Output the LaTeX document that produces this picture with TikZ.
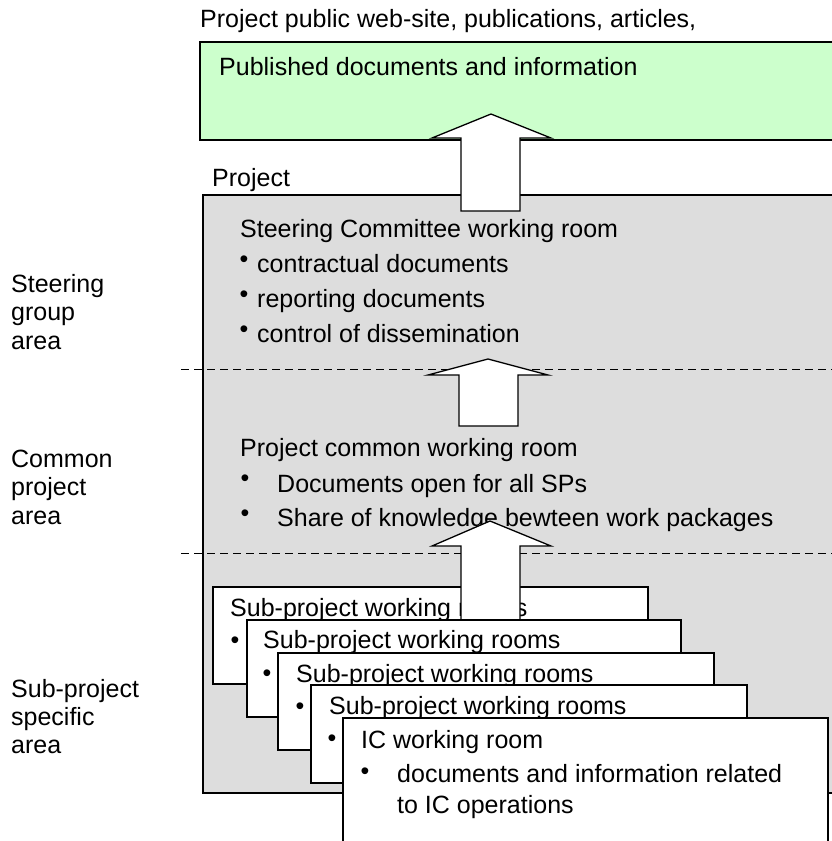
\documentclass[tikz,border=0pt]{standalone}
\usepackage{fontspec}
\setmainfont{Liberation Sans}
\definecolor{pubgreen}{HTML}{CCFFCC}
\definecolor{projgray}{HTML}{DDDDDD}
\begin{document}
\begin{tikzpicture}[x=1pt,y=-1pt,
  font=\fontsize{25}{29}\selectfont,
  txt/.style={anchor=base west, inner sep=0pt},
  dot/.style={anchor=center, inner sep=0pt},
  zone/.style={draw=black, line width=1.3pt},
  room/.style={draw=black, fill=white, line width=1.3pt},
  blockarrow/.style={draw=black, fill=white, line width=1.3pt, line join=miter},
  divider/.style={dash pattern=on 8pt off 5pt, line width=1pt}]
\clip (0,0) rectangle (832,841);

% public area
\node[txt] (pubtitle) at (200,27) {Project public web-site, publications, articles,};
\fill[pubgreen] (200,42) rectangle (845,140);
\draw[zone] (200,42) rectangle (845,140);
\node[txt] (pubdocs) at (219,75) {Published documents and information};

% project area
\node[txt] (projtitle) at (212,186) {Project};
\fill[projgray] (203,195) rectangle (845,793);
\draw[zone] (203,195) rectangle (845,793);

% area dividers
\coordinate (d1l) at (181,369);
\coordinate (d1r) at (832,369);
\coordinate (d2l) at (181,553);
\coordinate (d2r) at (832,553);
\draw[divider] (d1l) -- (d1r);
\draw[divider] (d2l) -- (d2r);

% left-hand area labels
\node[txt] (lab1a) at (11,292) {Steering};
\node[txt] (lab1b) at (11,320) {group};
\node[txt] (lab1c) at (11,349) {area};
\node[txt] (lab2a) at (11,467) {Common};
\node[txt] (lab2b) at (11,495) {project};
\node[txt] (lab2c) at (11,524) {area};
\node[txt] (lab3a) at (11,697) {Sub-project};
\node[txt] (lab3b) at (11,725) {specific};
\node[txt] (lab3c) at (11,753) {area};

% steering committee room
\node[txt] (sctitle) at (240,237) {Steering Committee working room};
\node[dot] (scb1) at (244,262) {•};
\node[txt] (sc1) at (257,272) {contractual documents};
\node[dot] (scb2) at (244,297) {•};
\node[txt] (sc2) at (257,307) {reporting documents};
\node[dot] (scb3) at (244,332) {•};
\node[txt] (sc3) at (257,342) {control of dissemination};

% common working room
\node[txt] (cmtitle) at (240,456) {Project common working room};
\node[dot] (cmb1) at (245,481) {•};
\node[txt] (cm1) at (277,492) {Documents open for all SPs};
\node[dot] (cmb2) at (245,516) {•};
\node[txt] (cm2) at (277,526) {Share of knowledge bewteen work packages};

% upward flows
\draw[blockarrow] (461,211) -- (461,138) -- (432,138) -- (491,114) -- (551,138)
  -- (520,138) -- (520,211) -- cycle;
\draw[blockarrow] (459,426) -- (459,375) -- (428,375) -- (488,359) -- (548,375)
  -- (518,375) -- (518,426) -- cycle;

% stacked sub-project rooms
\draw[room] (213,587) rectangle (648,684);
\node[txt] (sp1) at (230,616) {Sub-project working rooms};
\node[dot] (sp1b) at (235,643) {•};

\draw[blockarrow] (461,630) -- (461,546) -- (432,546) -- (490,521) -- (551,546)
  -- (520,546) -- (520,630) -- cycle;

\draw[room] (247,620) rectangle (681,717);
\node[txt] (sp2) at (263,648) {Sub-project working rooms};
\node[dot] (sp2b) at (267,676) {•};

\draw[room] (278,653) rectangle (714,750);
\node[txt] (sp3) at (296,682) {Sub-project working rooms};
\node[dot] (sp3b) at (300,709) {•};

\draw[room] (311,685) rectangle (747,783);
\node[txt] (sp4) at (329,714) {Sub-project working rooms};
\node[dot] (sp4b) at (332,741) {•};

% IC room
\draw[room] (343,718) rectangle (828,860);
\node[txt] (ictitle) at (361,748) {IC working room};
\node[dot] (icb) at (365,774) {•};
\node[txt] (ic1) at (397,782) {documents and information related};
\node[txt] (ic2) at (397,813) {to IC operations};
\end{tikzpicture}
\end{document}
